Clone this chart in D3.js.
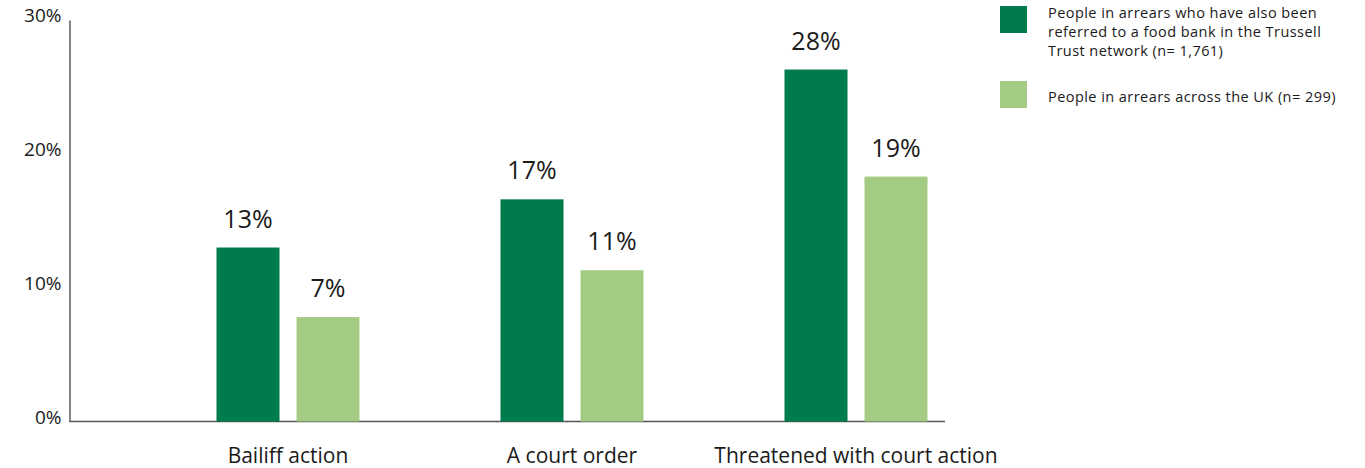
<!DOCTYPE html>
<html>
<head>
<meta charset="utf-8">
<script src="https://cdn.jsdelivr.net/npm/d3@7"></script>
<style>
  body { margin: 0; background: #fff; }
  text { font-family: "Open Sans", "Noto Sans", sans-serif; fill: #1a1a1a; }
</style>
</head>
<body>
<div id="chart"></div>
<script>
// chart data
const categories = ["Bailiff action", "A court order", "Threatened with court action"];
const seriesNames = [
  "People in arrears who have also been referred to a food bank in the Trussell Trust network (n= 1,761)",
  "People in arrears across the UK (n= 299)"
];
const legendLines = [
  ["People in arrears who have also been", "referred to a food bank in the Trussell", "Trust network (n= 1,761)"],
  ["People in arrears across the UK (n= 299)"]
];
// bar heights as drawn in the picture, and the printed labels
const foodBankValues = [13.0, 16.6, 26.3];
const ukValues = [7.8, 11.3, 18.3];
const foodBankLabels = ["13%", "17%", "28%"];
const ukLabels = ["7%", "11%", "19%"];
const yTicks = [0, 10, 20, 30];

const colors = ["#007b4b", "#a3cb83"];

const svgWidth = 1365;
const svgHeight = 468;

const svg = d3.select("#chart")
  .append("svg")
  .attr("width", svgWidth)
  .attr("height", svgHeight);

// y scale
const y = d3.scaleLinear()
  .domain([0, 30])
  .range([421.5, 20]);

// outer band per category, inner band per series
const x0 = d3.scaleBand()
  .domain(categories)
  .range([146, 998]);

const x1 = d3.scaleBand()
  .domain(seriesNames)
  .range([-71.5, 71.5])
  .paddingInner(0.2125);

// y axis
const yAxis = svg.append("g")
  .attr("transform", "translate(69.5,0)")
  .call(d3.axisLeft(y).tickValues(yTicks).tickSize(0).tickPadding(8).tickFormat(d => d + "%"));
yAxis.select(".domain").attr("stroke", "#333").attr("stroke-width", 1.2);
yAxis.selectAll("text").attr("font-size", "19px").attr("dy", "0.1em");

// baseline
svg.append("line")
  .attr("x1", 69.5).attr("x2", 945)
  .attr("y1", y(0)).attr("y2", y(0))
  .attr("stroke", "#555").attr("stroke-width", 1.5);

// build rows for bars
const rows = [];
categories.forEach((c, i) => {
  rows.push({ cat: c, series: seriesNames[0], value: foodBankValues[i], label: foodBankLabels[i], color: colors[0] });
  rows.push({ cat: c, series: seriesNames[1], value: ukValues[i], label: ukLabels[i], color: colors[1] });
});

const barX = d => x0(d.cat) + x0.bandwidth() / 2 + x1(d.series);

svg.selectAll(".bar")
  .data(rows)
  .enter().append("rect")
  .attr("class", "bar")
  .attr("x", barX)
  .attr("y", d => y(d.value))
  .attr("width", x1.bandwidth())
  .attr("height", d => y(0) - y(d.value))
  .attr("fill", d => d.color);

// value labels
svg.selectAll(".val")
  .data(rows)
  .enter().append("text")
  .attr("class", "val")
  .attr("x", d => barX(d) + x1.bandwidth() / 2)
  .attr("y", d => y(d.value) - 20)
  .attr("text-anchor", "middle")
  .attr("font-size", "25px")
  .text(d => d.label);

// category labels
svg.selectAll(".cat")
  .data(categories)
  .enter().append("text")
  .attr("class", "cat")
  .attr("x", d => x0(d) + x0.bandwidth() / 2)
  .attr("y", 463)
  .attr("text-anchor", "middle")
  .attr("font-size", "21px")
  .text(d => d);

// legend
const legendTextY = [11.5, 20.5];
const legend = svg.selectAll(".legend")
  .data(seriesNames)
  .enter().append("g")
  .attr("class", "legend")
  .attr("transform", (d, i) => `translate(1000,${[6, 81][i]})`);

legend.append("rect")
  .attr("width", 27)
  .attr("height", 27)
  .attr("fill", (d, i) => colors[i]);

legend.each(function(d, i) {
  const t = d3.select(this).append("text")
    .attr("x", 48)
    .attr("y", legendTextY[i])
    .attr("font-size", "14.5px")
    .attr("letter-spacing", "0.45px");
  legendLines[i].forEach((line, j) => {
    t.append("tspan")
      .attr("x", 48)
      .attr("dy", j === 0 ? 0 : 19)
      .text(line);
  });
});
</script>
</body>
</html>
